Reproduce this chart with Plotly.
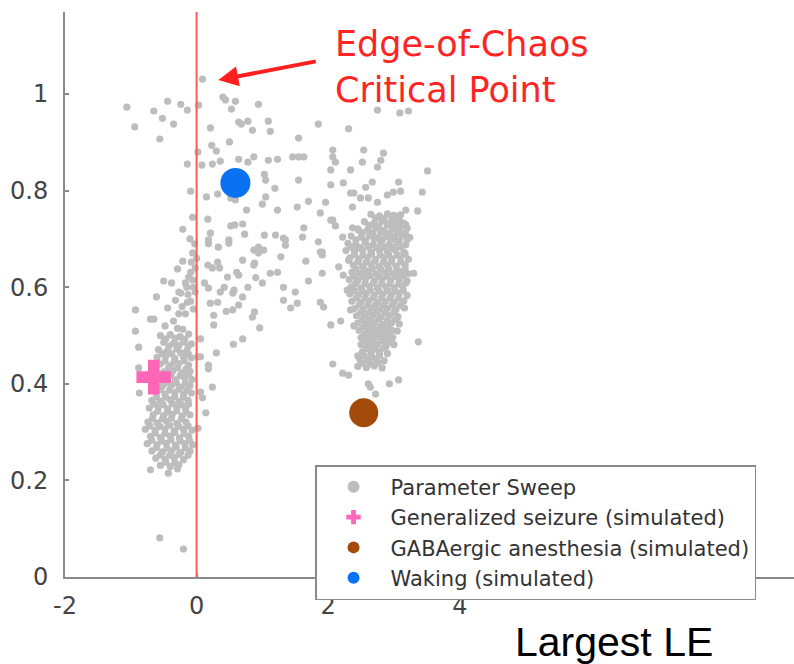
import plotly.graph_objects as go

# ---------------- data ----------------
sweep_upper = [(-1.06,0.973),(-0.94,0.932),(-0.65,0.965),(-0.52,0.950),(-0.56,0.907),(-0.44,0.985),(-0.35,0.938),
    (-0.24,0.979),(-0.14,0.967),(0.03,0.977),(-0.14,0.855),(-0.09,0.799),(-0.06,0.745),(-0.21,0.720),(0.02,0.880),
    (0.08,0.853),(0.21,0.930),(0.23,0.894),(0.30,0.882),(0.24,0.855),(0.36,0.861),(0.40,0.994),(0.44,0.988),
    (0.59,0.985),(0.53,0.969),(0.50,0.901),(0.64,0.942),(0.68,0.938),(0.78,0.944),(0.85,0.925),(0.94,0.979),
    (1.09,0.944),(1.12,0.923),(0.64,0.865),(0.78,0.859),(0.87,0.870),(1.09,0.863),(1.03,0.834),(1.05,0.822),
    (0.15,0.787),(0.32,0.793),(0.52,0.785),(0.59,0.781),(0.76,0.760),(1.00,0.772),(1.05,0.787),(0.17,0.741),
    (0.52,0.727),(0.58,0.729),(0.70,0.731),(0.21,0.712),(0.73,0.710),(0.49,0.698),(0.18,0.698),(1.03,0.708),
    (0.09,1.031)]

sweep_right_sparse = [(2.75,0.967),(3.09,0.961),(3.22,0.965),(1.85,0.938),(2.31,0.928),(1.55,0.909),(1.23,0.865),
    (1.46,0.870),(1.55,0.870),(1.63,0.870),(2.07,0.884),(2.07,0.870),(2.11,0.859),(2.04,0.843),(2.34,0.843),
    (2.54,0.884),(2.52,0.859),(2.84,0.878),(2.80,0.863),(2.75,0.849),(3.51,0.841),(1.55,0.822),(1.19,0.805),
    (2.04,0.812),(2.23,0.816),(2.57,0.807),(2.67,0.818),(3.07,0.818),(3.43,0.797),(2.34,0.795),(2.49,0.785),
    (2.61,0.785),(2.75,0.776),(2.90,0.791),(2.99,0.797),(3.10,0.799),(1.70,0.778),(1.53,0.766),(1.23,0.760),
    (2.37,0.766),(3.36,0.758),(3.18,0.760),(1.88,0.754),(2.07,0.739),(3.07,0.745),(1.63,0.723),(1.35,0.698),
    (2.22,0.704),(2.46,0.718),(3.18,0.729),(3.21,0.704),(1.96,0.776),(2.04,0.739),(2.11,0.727),(1.85,0.694),
    (1.88,0.673),(1.91,0.667),(2.37,0.723),(2.39,0.795),(1.61,0.704)]

sweep_mid = [(1.28,0.663),(1.32,0.600),(1.50,0.590),(1.32,0.573),(1.53,0.567),(1.43,0.557),(1.66,0.654),(1.70,0.613),
    (1.91,0.629),(1.88,0.569),(1.93,0.559),(2.16,0.642),(2.23,0.625),(2.31,0.656),(1.23,0.631),(1.12,0.629),
    (1.35,0.687),(1.91,0.673),(2.29,0.594),(2.34,0.553),(2.07,0.441),(2.22,0.422),(2.31,0.418),(2.61,0.400),
    (2.64,0.393),(2.72,0.379),(2.93,0.400),(3.07,0.408),(3.37,0.487),(2.45,0.458),(2.04,0.522),(2.19,0.530),
    (2.39,0.520),(3.30,0.629),(0.18,0.690),(0.33,0.683),(0.49,0.691),(0.17,0.646),(0.24,0.640),(0.32,0.652),
    (0.12,0.609),(0.18,0.598),(0.47,0.621),(0.61,0.631),(0.64,0.625),(0.70,0.656),(0.36,0.590),(0.55,0.588),
    (0.57,0.594),(0.21,0.567),(0.32,0.569),(0.64,0.563),(0.55,0.553),(0.26,0.542),(0.88,0.549),(0.85,0.538),
    (1.00,0.609),(0.96,0.516),(0.26,0.522),(0.70,0.493),(0.56,0.482),(0.30,0.464),(0.06,0.493),(0.06,0.456),
    (0.18,0.439),(0.18,0.431),(0.24,0.393),(0.87,0.677),(0.94,0.683),(0.87,0.646),(0.35,0.640),(0.42,0.600),
    (0.78,0.600),(0.90,0.620),(0.45,0.550),(0.70,0.580),(1.20,0.708),(1.32,0.702),(1.02,0.677),(0.94,0.671),
    (0.88,0.650)]

sweep_left_upper = [(-0.21,0.654),(-0.06,0.671),(-0.29,0.638),(-0.09,0.631),(-0.50,0.613),(-0.38,0.609),
    (-0.12,0.621),(-0.06,0.615),(-0.05,0.600),(-0.02,0.590),(-0.24,0.588),(-0.61,0.580),(-0.32,0.573),
    (-0.14,0.569),(-0.09,0.571),(-0.44,0.557),(-0.93,0.553),(-0.70,0.534),(-0.65,0.534),(-0.35,0.530),
    (-0.27,0.545),(-0.17,0.545),(-0.93,0.509),(-0.29,0.515),(-0.21,0.513),(-0.40,0.501),(-0.88,0.476),
    (-0.03,0.690),(-0.10,0.700),(0.00,0.660),(-0.02,0.640),(-0.15,0.600),(-0.27,0.590),(-0.17,0.609),
    (-0.88,0.433),(-0.87,0.381),(-0.08,0.652),(-0.13,0.585),(-0.22,0.560),(-0.05,0.555),(-0.48,0.520)]

sweep_left_dense = [(-0.55,0.500),(-0.40,0.502),(-0.25,0.498),(-0.12,0.503),
    (-0.50,0.486),(-0.35,0.484),(-0.20,0.487),(-0.08,0.483),
    (-0.58,0.471),(-0.44,0.469),(-0.30,0.472),(-0.15,0.468),
    (-0.60,0.455),(-0.47,0.457),(-0.33,0.453),(-0.20,0.456),(-0.08,0.454),
    (-0.55,0.441),(-0.40,0.438),(-0.27,0.442),(-0.12,0.439),
    (-0.50,0.425),(-0.36,0.427),(-0.22,0.423),(-0.10,0.426),
    (-0.45,0.411),(-0.32,0.408),(-0.18,0.412),(-0.07,0.409),
    (-0.52,0.395),(-0.38,0.397),(-0.24,0.393),(-0.10,0.396),
    (-0.62,0.381),(-0.48,0.379),(-0.33,0.382),(-0.20,0.378),(-0.08,0.381),
    (-0.68,0.366),(-0.55,0.364),(-0.40,0.367),(-0.27,0.363),(-0.13,0.366),
    (-0.72,0.350),(-0.58,0.352),(-0.44,0.348),(-0.30,0.351),(-0.17,0.349),
    (-0.66,0.336),(-0.50,0.334),(-0.37,0.337),(-0.22,0.333),(-0.10,0.336),
    (-0.74,0.321),(-0.60,0.319),(-0.45,0.322),(-0.30,0.318),(-0.16,0.321),
    (-0.78,0.306),(-0.63,0.304),(-0.48,0.307),(-0.34,0.303),(-0.20,0.306),(-0.07,0.304),
    (-0.70,0.291),(-0.55,0.289),(-0.40,0.292),(-0.26,0.288),(-0.12,0.291),
    (-0.75,0.276),(-0.60,0.274),(-0.46,0.277),(-0.32,0.273),(-0.18,0.276),(-0.06,0.274),
    (-0.68,0.261),(-0.52,0.259),(-0.38,0.262),(-0.24,0.258),(-0.10,0.261),
    (-0.62,0.246),(-0.48,0.244),(-0.34,0.247),(-0.20,0.243),
    (-0.55,0.231),(-0.40,0.229),(-0.27,0.232),
    (-0.70,0.222),(-0.43,0.215),(-0.29,0.224),(-0.56,0.081),(-0.20,0.058),
    (0.14,0.340),(0.09,0.371),(0.02,0.308),(0.06,0.383),(0.02,0.456)]

sweep_left_fill = [(-0.47,0.493),(-0.32,0.494),(-0.18,0.492),(-0.42,0.478),(-0.27,0.479),(-0.13,0.477),
    (-0.52,0.463),(-0.38,0.462),(-0.24,0.464),(-0.12,0.461),(-0.48,0.447),(-0.34,0.446),(-0.19,0.448),
    (-0.43,0.432),(-0.29,0.433),(-0.16,0.431),(-0.39,0.418),(-0.25,0.417),(-0.12,0.419),(-0.45,0.402),
    (-0.31,0.403),(-0.17,0.401),(-0.55,0.388),(-0.41,0.387),(-0.27,0.389),(-0.14,0.387),(-0.61,0.373),
    (-0.47,0.372),(-0.33,0.374),(-0.20,0.372),(-0.65,0.358),(-0.51,0.357),(-0.37,0.359),(-0.23,0.357),
    (-0.12,0.358),(-0.59,0.343),(-0.44,0.342),(-0.30,0.344),(-0.16,0.342),(-0.67,0.328),(-0.52,0.327),
    (-0.38,0.329),(-0.23,0.327),(-0.71,0.313),(-0.56,0.312),(-0.41,0.314),(-0.27,0.312),(-0.13,0.313),
    (-0.63,0.298),(-0.48,0.297),(-0.33,0.299),(-0.19,0.297),(-0.68,0.283),(-0.53,0.282),(-0.39,0.284),
    (-0.25,0.282),(-0.11,0.283),(-0.61,0.268),(-0.45,0.267),(-0.31,0.269),(-0.17,0.267),(-0.55,0.253),
    (-0.41,0.252),(-0.27,0.254),(-0.13,0.252),(-0.47,0.238),(-0.33,0.237)]

sweep_right_dense = [(2.65,0.751),(2.78,0.748),(2.90,0.752),(3.00,0.749),(3.10,0.750),
    (2.55,0.736),(2.70,0.733),(2.82,0.737),(2.95,0.734),(3.05,0.736),(3.15,0.733),
    (2.45,0.721),(2.60,0.719),(2.72,0.722),(2.85,0.718),(2.98,0.721),(3.08,0.719),(3.20,0.722),
    (2.35,0.706),(2.50,0.704),(2.63,0.707),(2.76,0.703),(2.88,0.706),(3.00,0.704),(3.12,0.707),(3.24,0.703),
    (2.30,0.691),(2.42,0.689),(2.56,0.692),(2.68,0.688),(2.80,0.691),(2.93,0.689),(3.05,0.692),(3.18,0.688),
    (2.27,0.676),(2.40,0.674),(2.52,0.677),(2.65,0.673),(2.78,0.676),(2.90,0.674),(3.02,0.677),(3.15,0.673),
    (2.33,0.661),(2.47,0.659),(2.60,0.662),(2.72,0.658),(2.85,0.661),(2.97,0.659),(3.10,0.662),(3.22,0.658),
    (2.38,0.646),(2.52,0.644),(2.65,0.647),(2.77,0.643),(2.90,0.646),(3.03,0.644),(3.17,0.647),
    (2.36,0.631),(2.48,0.629),(2.60,0.632),(2.73,0.628),(2.86,0.631),(2.98,0.629),(3.10,0.632),(3.22,0.628),
    (2.32,0.616),(2.45,0.614),(2.57,0.617),(2.70,0.613),(2.82,0.616),(2.95,0.614),(3.08,0.617),(3.20,0.613),
    (2.35,0.601),(2.50,0.599),(2.63,0.602),(2.75,0.598),(2.88,0.601),(3.00,0.599),(3.13,0.602),
    (2.33,0.586),(2.46,0.584),(2.58,0.587),(2.70,0.583),(2.83,0.586),(2.96,0.584),(3.08,0.587),(3.20,0.583),
    (2.36,0.571),(2.50,0.569),(2.62,0.572),(2.75,0.568),(2.87,0.571),(3.00,0.569),(3.15,0.572),
    (2.40,0.556),(2.53,0.554),(2.66,0.557),(2.78,0.553),(2.90,0.556),(3.03,0.554),(3.16,0.557),
    (2.43,0.541),(2.56,0.539),(2.68,0.542),(2.80,0.538),(2.93,0.541),(3.06,0.539),
    (2.45,0.526),(2.58,0.524),(2.70,0.527),(2.83,0.523),(2.96,0.526),(3.08,0.524),
    (2.47,0.511),(2.60,0.509),(2.72,0.512),(2.85,0.508),(2.97,0.511),(3.05,0.509),
    (2.50,0.496),(2.62,0.494),(2.74,0.497),(2.86,0.493),(2.98,0.496),
    (2.50,0.481),(2.63,0.479),(2.75,0.482),(2.88,0.478),(3.00,0.481),
    (2.52,0.466),(2.65,0.464),(2.78,0.467),(2.90,0.463),
    (2.48,0.451),(2.60,0.449),(2.72,0.452),(2.85,0.448),
    (2.45,0.436),(2.58,0.434),(2.70,0.437),(2.82,0.433)]

sweep_right_fill = [(2.72,0.743),(2.85,0.742),(2.97,0.744),(3.08,0.742),(2.62,0.728),(2.77,0.727),(2.90,0.729),
    (3.02,0.727),(3.13,0.728),(2.52,0.713),(2.68,0.712),(2.80,0.714),(2.93,0.712),(3.05,0.713),(3.17,0.712),
    (2.42,0.698),(2.57,0.697),(2.70,0.699),(2.82,0.697),(2.95,0.698),(3.08,0.697),(3.20,0.699),(2.35,0.683),
    (2.48,0.682),(2.61,0.684),(2.73,0.682),(2.86,0.683),(2.98,0.682),(3.10,0.684),(2.40,0.668),(2.53,0.667),
    (2.66,0.669),(2.79,0.667),(2.92,0.668),(3.05,0.667),(3.17,0.669),(2.45,0.653),(2.58,0.652),(2.71,0.654),
    (2.84,0.652),(2.96,0.653),(3.10,0.652),(2.42,0.638),(2.55,0.637),(2.67,0.639),(2.80,0.637),(2.92,0.638),
    (3.05,0.637),(3.17,0.639),(2.39,0.623),(2.52,0.622),(2.64,0.624),(2.77,0.622),(2.89,0.623),(3.02,0.622),
    (3.14,0.624),(2.42,0.608),(2.56,0.607),(2.69,0.609),(2.81,0.607),(2.94,0.608),(3.07,0.607),(3.18,0.609),
    (2.40,0.593),(2.52,0.592),(2.64,0.594),(2.77,0.592),(2.90,0.593),(3.02,0.592),(3.14,0.594),(2.43,0.578),
    (2.56,0.577),(2.69,0.579),(2.81,0.577),(2.94,0.578),(3.07,0.577),(2.47,0.563),(2.60,0.562),(2.72,0.564),
    (2.84,0.562),(2.97,0.563),(3.10,0.562),(2.50,0.548),(2.62,0.547),(2.74,0.549),(2.87,0.547),(3.00,0.548),
    (2.52,0.533),(2.64,0.532),(2.77,0.534),(2.90,0.532),(3.02,0.533),(2.54,0.518),(2.66,0.517),(2.79,0.519),
    (2.91,0.517),(2.56,0.503),(2.68,0.502),(2.80,0.504),(2.92,0.502),(2.57,0.488),(2.69,0.487),(2.82,0.489),
    (2.94,0.487),(2.58,0.473),(2.71,0.472),(2.84,0.474),(2.55,0.458),(2.66,0.457),(2.78,0.459),(2.52,0.443),
    (2.64,0.442),(2.76,0.444)]

seizure = (-0.65, 0.414)
anesthesia = (2.54, 0.340)
waking = (0.59, 0.816)
critical_x = 0.0
arrow_tip = (0.33, 1.029)

x_ticks = [-2, 0, 2, 4]
x_ticktext = ["-2", "0", "2", "4"]
y_ticks = [0, 0.2, 0.4, 0.6, 0.8, 1]
y_ticktext = ["0", "0.2", "0.4", "0.6", "0.8", "1"]

# ---------------- figure ----------------
all_pts = (sweep_upper + sweep_right_sparse + sweep_mid + sweep_left_upper + sweep_left_dense
           + sweep_left_fill + sweep_right_dense + sweep_right_fill)
sx = [p[0] for p in all_pts]
sy = [p[1] for p in all_pts]

fig = go.Figure()
fig.add_trace(go.Scatter(x=sx, y=sy, mode="markers", name="Parameter Sweep",
                         marker=dict(color="#bdbdbd", size=7.2, line=dict(width=0))))
fig.add_trace(go.Scatter(x=[seizure[0]], y=[seizure[1]], mode="markers", name="Generalized seizure (simulated)",
                         marker=dict(color="#ff66b8", size=29, symbol="cross", line=dict(width=0))))
fig.add_trace(go.Scatter(x=[anesthesia[0]], y=[anesthesia[1]], mode="markers", name="GABAergic anesthesia (simulated)",
                         marker=dict(color="#a44a0a", size=29, symbol="circle", line=dict(width=0))))
fig.add_trace(go.Scatter(x=[waking[0]], y=[waking[1]], mode="markers", name="Waking (simulated)",
                         marker=dict(color="#0872f2", size=30, symbol="circle", line=dict(width=0))))

fig.add_shape(type="line", xref="x", yref="paper", x0=critical_x, x1=critical_x, y0=0, y1=1,
              line=dict(color="#ff5a5a", width=2), layer="above")

fig.add_annotation(x=arrow_tip[0], y=arrow_tip[1], xref="x", yref="y", text="", showarrow=True,
                   ax=99, ay=-19, arrowhead=2, arrowsize=1, arrowwidth=4, arrowcolor="#ff1f1f")
fig.add_annotation(x=2.07, y=1.056, xref="x", yref="y", text="Edge-of-Chaos<br>Critical Point",
                   showarrow=False, xanchor="left", yanchor="middle", align="left",
                   font=dict(family="DejaVu Sans", size=35, color="#ff2424"))
fig.add_annotation(x=0.753, y=-0.115, xref="paper", yref="paper", text="Largest LE", showarrow=False,
                   xanchor="center", yanchor="middle",
                   font=dict(family="Liberation Sans, Arial", size=41, color="#000000"))

axis_common = dict(showline=True, linecolor="#8a8a8a", linewidth=2, showgrid=False, zeroline=False,
                   ticks="inside", ticklen=4, tickcolor="#8a8a8a", tickwidth=1.5,
                   tickfont=dict(family="DejaVu Sans", size=24, color="#444444"))
fig.update_xaxes(range=[-2, 9.08], tickvals=x_ticks, ticktext=x_ticktext, ticklabelstandoff=6, **axis_common)
fig.update_yaxes(range=[0, 1.17], tickvals=y_ticks, ticktext=y_ticktext, ticklabelstandoff=10, **axis_common)

fig.update_layout(
    width=794, height=664, margin=dict(l=65, r=0, t=12, b=87),
    plot_bgcolor="white", paper_bgcolor="white",
    legend=dict(x=0.343, y=0.198, xanchor="left", yanchor="top", bgcolor="white",
                bordercolor="#8a8a8a", borderwidth=1.5, itemsizing="constant", itemwidth=64,
                entrywidth=414, entrywidthmode="pixels",
                font=dict(family="DejaVu Sans", size=21, color="#333333"), tracegroupgap=0),
    showlegend=True,
)

fig.write_html("out.html")
